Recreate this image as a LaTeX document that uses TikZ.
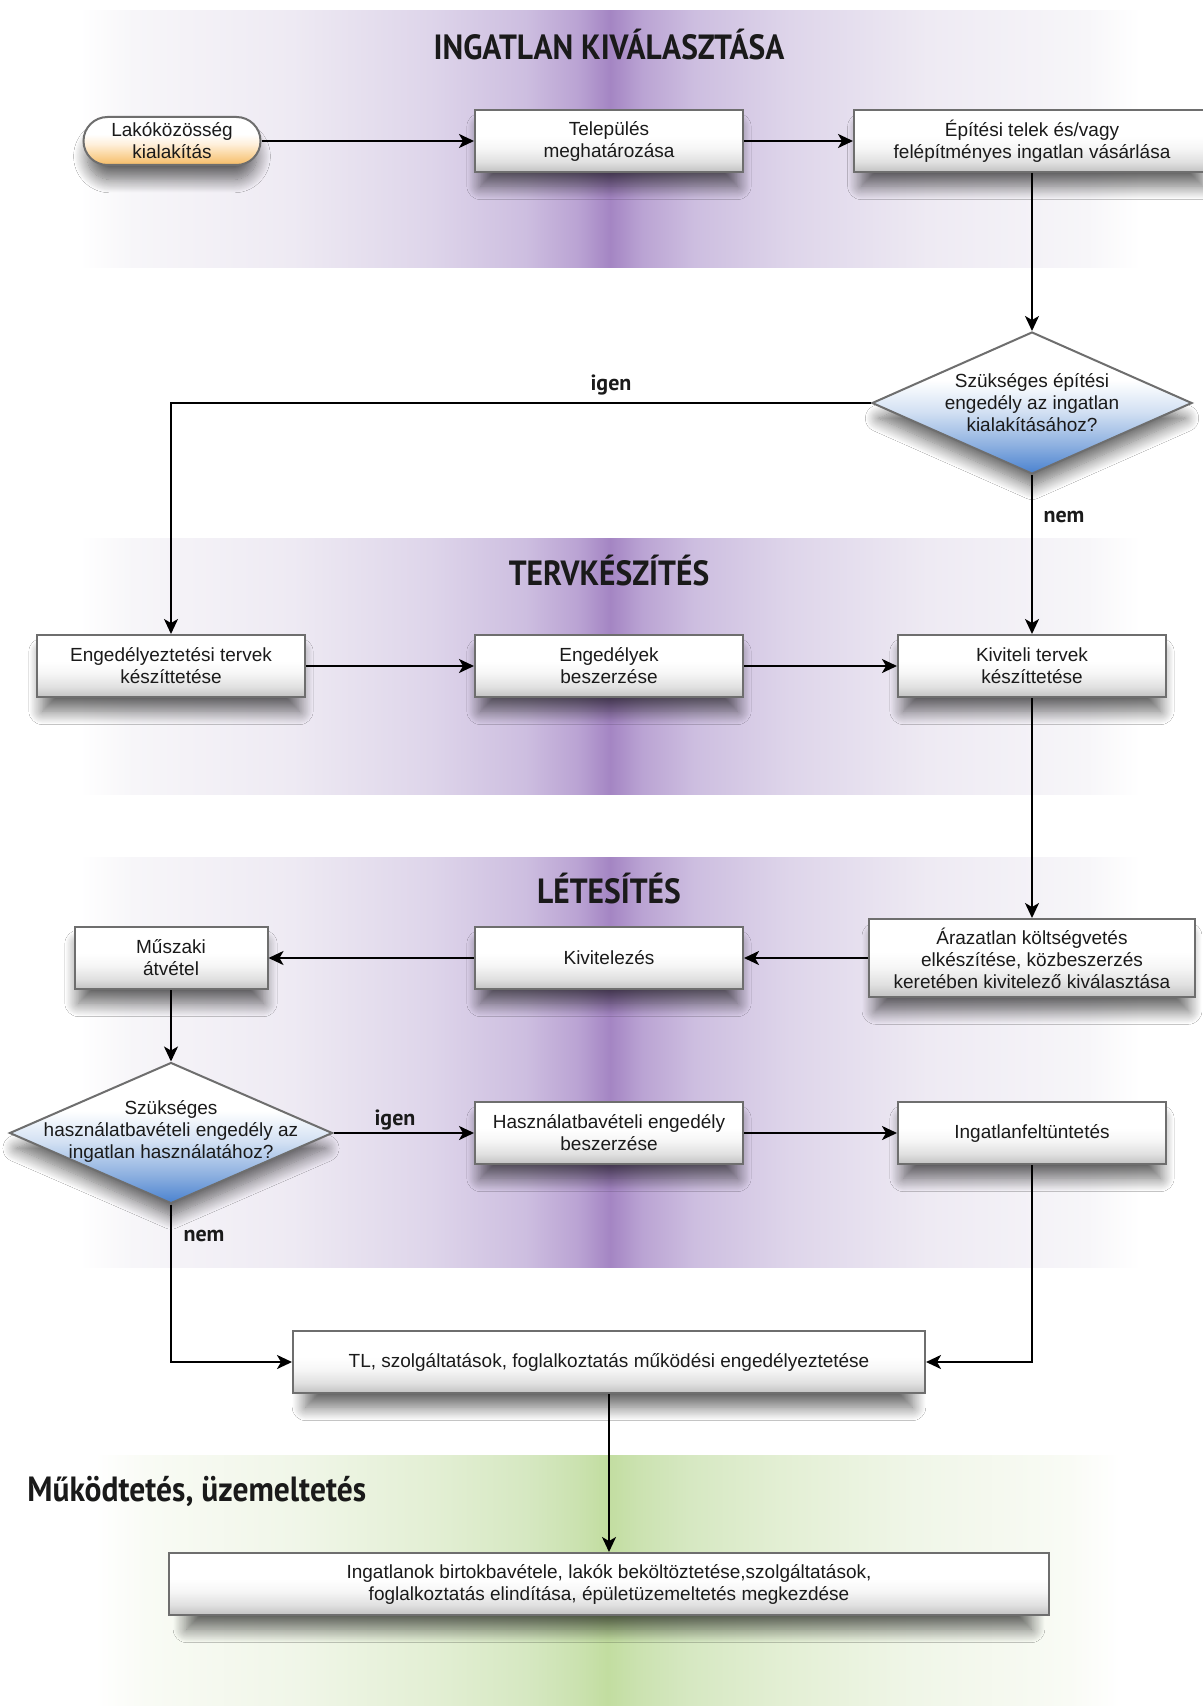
\documentclass[tikz,border=0pt]{standalone}
\usepackage{fontspec}
\usetikzlibrary{arrows.meta,shapes.geometric,shadows.blur}
\newfontfamily\boxfont{Liberation Sans}
\newfontfamily\titlefont[FakeStretch=0.9]{PT Sans}
\newfontfamily\labfont{PT Sans}
\definecolor{pA}{HTML}{F7F6F9}
\definecolor{pB}{HTML}{EEEAF3}
\definecolor{pC}{HTML}{DED5EA}
\definecolor{pD}{HTML}{CDBEE0}
\definecolor{pE}{HTML}{BAA3D3}
\definecolor{pF}{HTML}{A485C3}
\definecolor{gA}{HTML}{F9FBF5}
\definecolor{gB}{HTML}{F0F6E8}
\definecolor{gC}{HTML}{E3EFD4}
\definecolor{gD}{HTML}{D6E8C2}
\definecolor{gE}{HTML}{CBE2B0}
\definecolor{gF}{HTML}{C2DDA0}
\definecolor{boxline}{HTML}{6E6E6E}
\definecolor{txt}{HTML}{1A1A1A}
\definecolor{bxA}{HTML}{C2C2C2}
\definecolor{bxB}{HTML}{E0E0E0}
\definecolor{bxC}{HTML}{F6F6F6}
\definecolor{dbA}{HTML}{4A82CF}
\definecolor{dbB}{HTML}{8DB0E0}
\definecolor{dbC}{HTML}{D3E1F3}
\definecolor{orA}{HTML}{F6BC66}
\definecolor{orB}{HTML}{FAD49A}
\definecolor{orC}{HTML}{FEF0DC}
\pgfdeclarehorizontalshading{purpleband}{100bp}{color(0bp)=(white); color(25bp)=(white); color(27.5bp)=(pA); color(35bp)=(pB); color(41.5bp)=(pC); color(46bp)=(pD); color(48.5bp)=(pE); color(50bp)=(pF); color(51.5bp)=(pE); color(54bp)=(pD); color(58.5bp)=(pC); color(65bp)=(pB); color(72.5bp)=(pA); color(75bp)=(white); color(100bp)=(white)}
\pgfdeclarehorizontalshading{greenband}{100bp}{color(0bp)=(white); color(25bp)=(white); color(27.5bp)=(gA); color(35bp)=(gB); color(41.5bp)=(gC); color(46bp)=(gD); color(48.5bp)=(gE); color(50bp)=(gF); color(51.5bp)=(gE); color(54bp)=(gD); color(58.5bp)=(gC); color(65bp)=(gB); color(72.5bp)=(gA); color(75bp)=(white); color(100bp)=(white)}
\pgfdeclareverticalshading{boxshade}{100bp}{color(0bp)=(bxA); color(25bp)=(bxA); color(33bp)=(bxB); color(44bp)=(bxC); color(54bp)=(white); color(100bp)=(white)}
\pgfdeclareverticalshading{diashade}{100bp}{color(0bp)=(dbA); color(25bp)=(dbA); color(35bp)=(dbB); color(47bp)=(dbC); color(58bp)=(white); color(100bp)=(white)}
\pgfdeclareverticalshading{pillshade}{100bp}{color(0bp)=(orA); color(25bp)=(orA); color(35bp)=(orB); color(47bp)=(orC); color(57bp)=(white); color(100bp)=(white)}
\tikzset{
  shad/.style={blur shadow={shadow xshift=0pt, shadow yshift=-8pt, shadow scale=0.96, shadow blur radius=7pt, shadow blur steps=16, shadow opacity=60}},
  boxnode/.style={shad, draw=boxline, line width=1pt, shading=boxshade, align=center, inner sep=2pt,
    font=\boxfont\fontsize{9.5}{11}\selectfont, text=txt, minimum height=31pt},
  pillnode/.style={shad, draw=boxline, line width=1pt, shading=pillshade, rounded corners=12pt, align=center,
    inner sep=2pt, font=\boxfont\fontsize{9.5}{11}\selectfont, text=txt, minimum height=24pt, minimum width=88.5pt},
  dianode/.style={shad, diamond, draw=boxline, line width=1pt, shading=diashade, inner sep=0pt},
  diatext/.style={align=center, font=\boxfont\fontsize{9.5}{11}\selectfont, text=txt, inner sep=0pt},
  titlenode/.style={font=\titlefont\bfseries\fontsize{17.5}{20}\selectfont, text=txt, anchor=base, inner sep=0pt},
  labnode/.style={font=\labfont\bfseries\fontsize{11}{13}\selectfont, text=txt, anchor=base, inner sep=0pt},
  arr/.style={-{Stealth[length=7.5pt,width=7pt,inset=2pt]}, line width=1.1pt, black},
  arrthin/.style={-{Stealth[length=7.5pt,width=7pt,inset=2pt]}, line width=0.9pt, black}
}
\begin{document}
\begin{tikzpicture}[x=0.5pt,y=-0.5pt]
\useasboundingbox (0,0) rectangle (1203,1706);
\fill[white] (0,0) rectangle (1203,1706);
% bands
\fill[shading=purpleband] (80,11) rectangle (1140,268);
\fill[shading=purpleband] (80,538) rectangle (1140,794);
\fill[shading=purpleband] (80,857) rectangle (1140,1267);
\fill[shading=greenband] (95,1455) rectangle (1120,1706);
% titles
\node[titlenode] (t1) at (609,60) {INGATLAN KIVÁLASZTÁSA};
\node[titlenode] (t2) at (609,585) {TERVKÉSZÍTÉS};
\node[titlenode] (t3) at (609,903) {LÉTESÍTÉS};
\node[titlenode, anchor=base west] (t4) at (27,1501) {Működtetés, üzemeltetés};
% nodes
\node[pillnode] (p1) at (172,141) {Lakóközösség\\kialakítás};
\node[boxnode, minimum width=134pt] (b2) at (609,141) {Település\\meghatározása};
\node[boxnode, minimum width=178pt] (b3) at (1032,141) {Építési telek és/vagy\\felépítményes ingatlan vásárlása};
\node[dianode, minimum width=160pt, minimum height=71pt] (d1) at (1032,403) {};
\node[diatext] (d1t) at (1032,403) {Szükséges építési\\engedély az ingatlan\\kialakításához?};
\node[boxnode, minimum width=134pt] (b5) at (171,666) {Engedélyeztetési tervek\\készíttetése};
\node[boxnode, minimum width=134pt] (b6) at (609,666) {Engedélyek\\beszerzése};
\node[boxnode, minimum width=134pt] (b7) at (1032,666) {Kiviteli tervek\\készíttetése};
\node[boxnode, minimum width=163pt, minimum height=39pt] (b8) at (1032,958) {Árazatlan költségvetés\\elkészítése, közbeszerzés\\keretében kivitelező kiválasztása};
\node[boxnode, minimum width=134pt] (b9) at (609,958) {Kivitelezés};
\node[boxnode, minimum width=96.5pt] (b10) at (171,958) {Műszaki\\átvétel};
\node[dianode, minimum width=161.5pt, minimum height=70.5pt] (d2) at (171,1133) {};
\node[diatext] (d2t) at (171,1131) {Szükséges\\használatbavételi engedély az\\ingatlan használatához?};
\node[boxnode, minimum width=134pt] (b12) at (609,1133) {Használatbavételi engedély\\beszerzése};
\node[boxnode, minimum width=134pt] (b13) at (1032,1133) {Ingatlanfeltüntetés};
\node[boxnode, minimum width=316pt] (b14) at (609,1362) {TL, szolgáltatások, foglalkoztatás működési engedélyeztetése};
\node[boxnode, minimum width=440pt] (b15) at (609,1584) {Ingatlanok birtokbavétele, lakók beköltöztetése,szolgáltatások,\\foglalkoztatás elindítása, épületüzemeltetés megkezdése};
% labels
\node[labnode] (l1) at (611,390) {igen};
\node[labnode] (l2) at (1064,522) {nem};
\node[labnode] (l3) at (395,1125) {igen};
\node[labnode] (l4) at (204,1241) {nem};
% connectors
\draw[arr] (p1) -- (b2);
\draw[arr] (b2) -- (b3);
\draw[arrthin] (b3.south) -- (d1.north);
\draw[arrthin] (d1.west) -| (b5.north);
\draw[arrthin] (d1.south) -- (b7.north);
\draw[arr] (b5) -- (b6);
\draw[arr] (b6) -- (b7);
\draw[arrthin] (b7.south) -- (b8.north);
\draw[arr] (b8) -- (b9);
\draw[arr] (b9) -- (b10);
\draw[arrthin] (b10.south) -- (d2.north);
\draw[arr] (d2.east) -- (b12.west);
\draw[arr] (b12) -- (b13);
\draw[arr] (d2.south) |- (b14.west);
\draw[arr] (b13.south) |- (b14.east);
\draw[arrthin] (b14.south) -- (b15.north);
\end{tikzpicture}
\end{document}
